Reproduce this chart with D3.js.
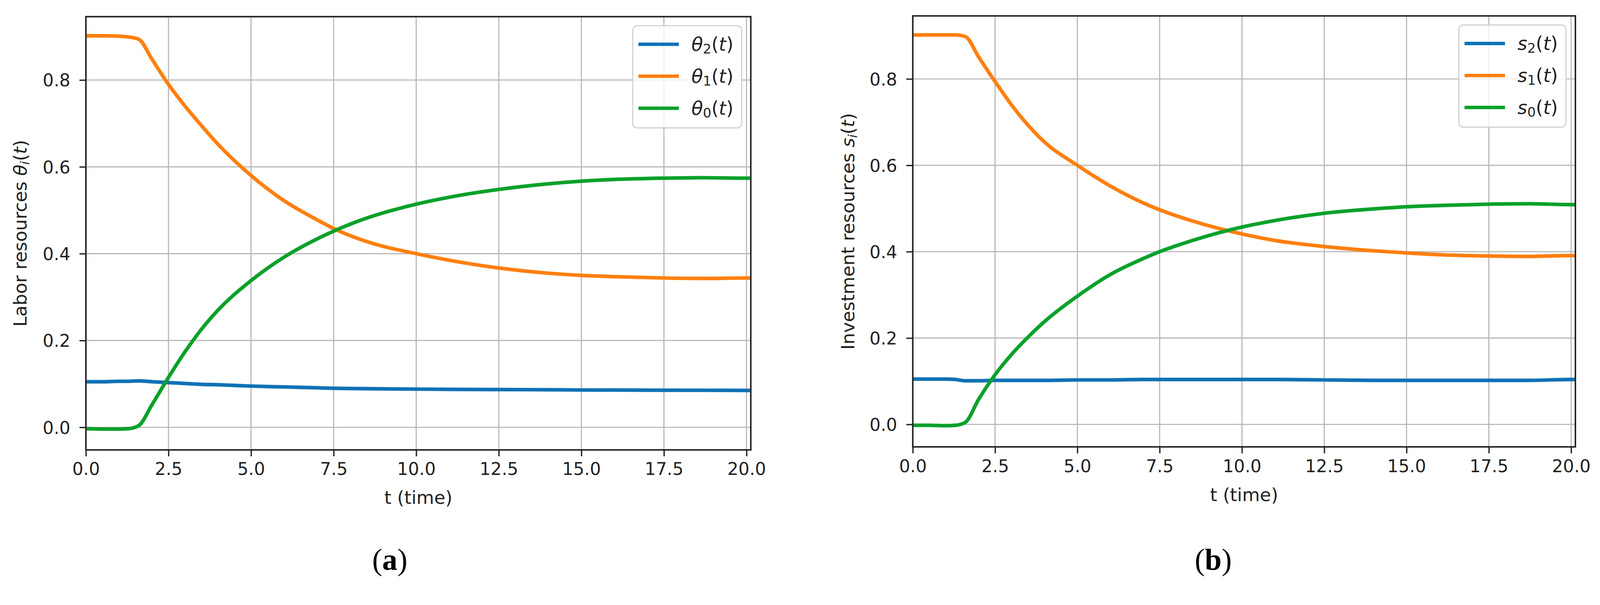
<!DOCTYPE html>
<html>
<head>
<meta charset="utf-8">
<script src="https://cdn.jsdelivr.net/npm/d3@7"></script>
<style>
  html, body { margin: 0; padding: 0; background: #ffffff; overflow: hidden; }
  svg { display: block; width: 100vw; height: 100vh; }
</style>
</head>
<body>
<svg id="chart" viewBox="0 0 4228 1549" preserveAspectRatio="xMidYMin meet"></svg>
<script>
// ---------------- DATA ----------------
const timePoints = [0, 0.5, 1.0, 1.3, 1.6, 2.0, 2.5, 3.0, 3.5, 4.0, 5.0, 6.0, 7.0, 7.5, 8.5, 10, 11, 12.5, 14, 15, 16, 17.5, 18.7, 20, 20.13];

// Panel (a): labor resources
const theta2 = [0.105, 0.105, 0.106, 0.106, 0.107, 0.105, 0.103, 0.101, 0.099, 0.098, 0.095, 0.093, 0.091, 0.090, 0.089, 0.088, 0.0875, 0.087, 0.0865, 0.086, 0.0858, 0.0855, 0.0853, 0.085, 0.085];
const theta1 = [0.902, 0.902, 0.901, 0.899, 0.894, 0.848, 0.790, 0.740, 0.695, 0.652, 0.580, 0.522, 0.478, 0.458, 0.428, 0.400, 0.385, 0.367, 0.355, 0.350, 0.347, 0.344, 0.343, 0.344, 0.344];
const theta0 = [-0.003, -0.004, -0.004, -0.003, 0.004, 0.052, 0.115, 0.174, 0.226, 0.270, 0.338, 0.392, 0.434, 0.452, 0.482, 0.514, 0.530, 0.548, 0.561, 0.567, 0.571, 0.574, 0.575, 0.574, 0.574];

// Panel (b): investment resources
const s2 = [0.105, 0.105, 0.105, 0.104, 0.101, 0.101, 0.102, 0.102, 0.102, 0.102, 0.103, 0.103, 0.104, 0.104, 0.104, 0.104, 0.104, 0.103, 0.102, 0.102, 0.102, 0.102, 0.102, 0.104, 0.104];
const s1 = [0.902, 0.902, 0.902, 0.902, 0.898, 0.851, 0.794, 0.740, 0.693, 0.654, 0.600, 0.552, 0.513, 0.497, 0.471, 0.441, 0.426, 0.412, 0.402, 0.397, 0.393, 0.390, 0.389, 0.391, 0.391];
const s0 = [-0.002, -0.002, -0.003, -0.002, 0.005, 0.058, 0.115, 0.162, 0.202, 0.238, 0.297, 0.347, 0.384, 0.400, 0.426, 0.457, 0.472, 0.489, 0.499, 0.504, 0.507, 0.510, 0.511, 0.509, 0.509];

const xTicks = [0, 2.5, 5, 7.5, 10, 12.5, 15, 17.5, 20];
const yTicks = [0.0, 0.2, 0.4, 0.6, 0.8];
const xDomain = [0, 20.13];
const yDomain = [-0.052, 0.946];

const seriesColors = ["#0f72b6", "#ff7f0e", "#0aa12a"];
const xLabelText = "t (time)";

// ---------------- DRAW ----------------
const svg = d3.select("#chart");
const FONT = "'DejaVu Sans', sans-serif";

function addMath(textSel, parts) {
  let pendingDy = null;
  parts.forEach(p => {
    const ts = textSel.append("tspan").text(p.t);
    if (p.italic) ts.attr("font-style", "italic");
    if (p.sub) {
      ts.attr("font-size", "0.7em").attr("dy", "0.22em");
      pendingDy = "-0.154em";
    } else if (pendingDy) {
      ts.attr("dy", pendingDy);
      pendingDy = null;
    }
  });
}

function drawPanel(cfg) {
  const g = svg.append("g");
  const x = d3.scaleLinear().domain(xDomain).range([cfg.left, cfg.right]);
  const y = d3.scaleLinear().domain(yDomain).range([cfg.bottom, cfg.top]);

  const clipId = "clip-" + cfg.id;
  svg.append("defs").append("clipPath").attr("id", clipId)
    .append("rect").attr("x", cfg.left).attr("y", cfg.top)
    .attr("width", cfg.right - cfg.left).attr("height", cfg.bottom - cfg.top);

  // grid
  const grid = g.append("g");
  grid.selectAll("line.vx").data(xTicks).enter().append("line")
    .attr("x1", d => x(d)).attr("x2", d => x(d))
    .attr("y1", cfg.top).attr("y2", cfg.bottom)
    .attr("stroke", "#b8b8b8").attr("stroke-width", 3);
  grid.selectAll("line.hy").data(yTicks).enter().append("line")
    .attr("y1", d => y(d)).attr("y2", d => y(d))
    .attr("x1", cfg.left).attr("x2", cfg.right)
    .attr("stroke", "#b8b8b8").attr("stroke-width", 3);

  // lines
  const line = d3.line()
    .x(d => x(d[0])).y(d => y(d[1]))
    .curve(d3.curveMonotoneX);
  const lg = g.append("g").attr("clip-path", `url(#${clipId})`);
  cfg.series.forEach((vals, i) => {
    const pts = timePoints.map((t, k) => [t, vals[k]]);
    lg.append("path").datum(pts).attr("d", line)
      .attr("fill", "none").attr("stroke", seriesColors[i])
      .attr("stroke-width", 9.5).attr("stroke-linejoin", "round");
  });

  // axes
  const xAxis = d3.axisBottom(x).tickValues(xTicks).tickFormat(d3.format(".1f"))
    .tickSize(17).tickPadding(17);
  const yAxis = d3.axisLeft(y).tickValues(yTicks).tickFormat(d3.format(".1f"))
    .tickSize(17).tickPadding(24);
  const gx = g.append("g").attr("transform", `translate(0,${cfg.bottom})`).call(xAxis);
  const gy = g.append("g").attr("transform", `translate(${cfg.left},0)`).call(yAxis);
  [gx, gy].forEach(ax => {
    ax.select(".domain").remove();
    ax.selectAll(".tick line").attr("stroke", "#222").attr("stroke-width", 3.5);
    ax.selectAll(".tick text").attr("fill", "#222").attr("font-family", FONT).attr("font-size", 46);
  });
  gy.selectAll(".tick text").attr("dy", "0.36em");

  // frame
  g.append("rect").attr("x", cfg.left).attr("y", cfg.top)
    .attr("width", cfg.right - cfg.left).attr("height", cfg.bottom - cfg.top)
    .attr("fill", "none").attr("stroke", "#222").attr("stroke-width", 4);

  // x label
  g.append("text").attr("x", (cfg.left + cfg.right) / 2).attr("y", cfg.bottom + 143)
    .attr("text-anchor", "middle").attr("font-family", FONT).attr("font-size", 48)
    .attr("fill", "#222").text(xLabelText);

  // y label
  const yl = g.append("text")
    .attr("transform", `translate(${cfg.yLabelX},${(cfg.top + cfg.bottom) / 2}) rotate(-90)`)
    .attr("text-anchor", "middle").attr("font-family", FONT).attr("font-size", 48)
    .attr("fill", "#222").attr("dy", "0.36em");
  yl.append("tspan").text(cfg.yLabel + " ");
  addMath(yl, [{t: cfg.sym, italic: true}, {t: "i", italic: true, sub: true}, {t: "("}, {t: "t", italic: true}, {t: ")"}]);

  // legend
  const lx = cfg.legendX, ly = cfg.top + 24, lw = cfg.legendW, lh = 270;
  const leg = g.append("g");
  leg.append("rect").attr("x", lx).attr("y", ly).attr("width", lw).attr("height", lh)
    .attr("rx", 12).attr("ry", 12)
    .attr("fill", "#ffffff").attr("fill-opacity", 0.8)
    .attr("stroke", "#d0d0d0").attr("stroke-width", 3);
  cfg.legendSubs.forEach((sub, i) => {
    const ry = ly + 49 + i * 84.5;
    leg.append("line").attr("x1", lx + 15).attr("x2", lx + 122)
      .attr("y1", ry).attr("y2", ry)
      .attr("stroke", seriesColors[i]).attr("stroke-width", 9);
    const tx = leg.append("text").attr("x", lx + 155).attr("y", ry + 17)
      .attr("font-family", FONT).attr("font-size", 50).attr("fill", "#222");
    addMath(tx, [{t: cfg.sym, italic: true}, {t: sub, sub: true}, {t: "("}, {t: "t", italic: true}, {t: ")"}]);
  });

  // caption
  const cap = g.append("text").attr("x", cfg.captionX).attr("y", 1506)
    .attr("text-anchor", "middle").attr("font-family", "'Liberation Serif', 'Times New Roman', serif")
    .attr("font-size", 80).attr("fill", "#000");
  cap.append("tspan").text("(");
  cap.append("tspan").attr("font-weight", "bold").text(cfg.caption);
  cap.append("tspan").text(")");
}

drawPanel({
  id: "a", left: 227, right: 1984, top: 44, bottom: 1189,
  series: [theta2, theta1, theta0],
  sym: "\u03B8", yLabel: "Labor resources", yLabelX: 53,
  legendX: 1672, legendW: 288, legendSubs: ["2", "1", "0"],
  caption: "a", captionX: 1030
});
drawPanel({
  id: "b", left: 2412, right: 4163, top: 42, bottom: 1181,
  series: [s2, s1, s0],
  sym: "s", yLabel: "Investment resources", yLabelX: 2240,
  legendX: 3855, legendW: 283, legendSubs: ["2", "1", "0"],
  caption: "b", captionX: 3206
});
</script>
</body>
</html>
